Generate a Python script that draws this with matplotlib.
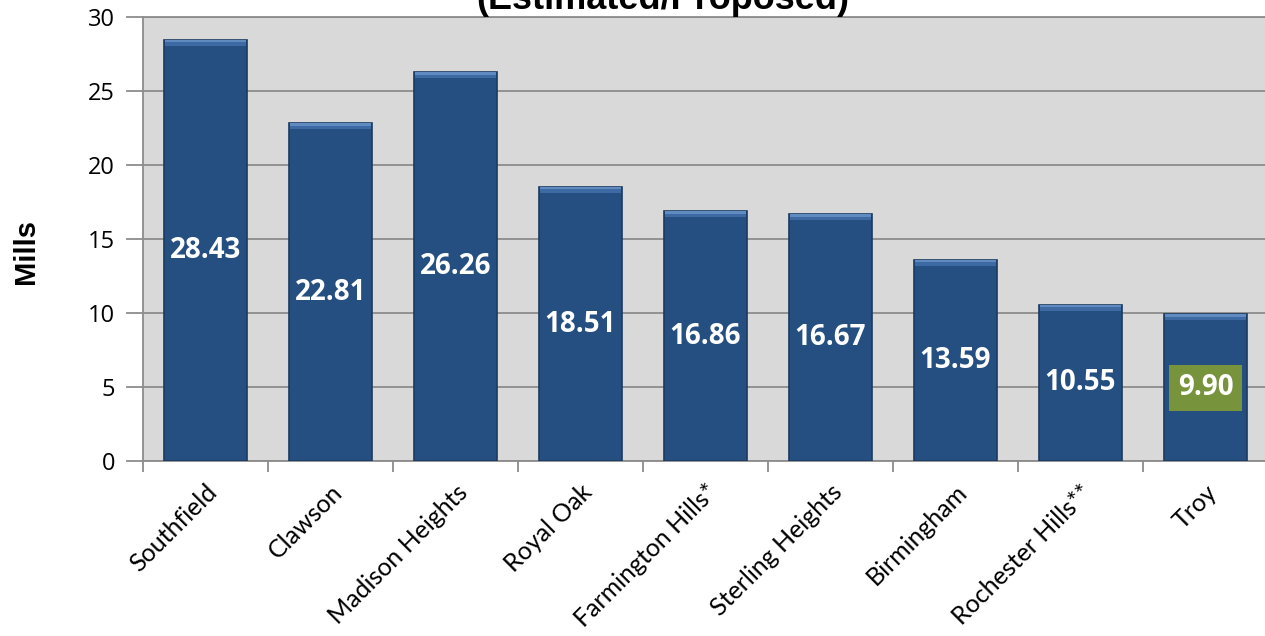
import matplotlib
matplotlib.use("Agg")
import matplotlib.pyplot as plt
import numpy as np

cities = ["Southfield", "Clawson", "Madison Heights", "Royal Oak", "Farmington Hills*",
          "Sterling Heights", "Birmingham", "Rochester Hills**", "Troy"]
mills = [28.43, 22.81, 26.26, 18.51, 16.86, 16.67, 13.59, 10.55, 9.90]
value_labels = ["28.43", "22.81", "26.26", "18.51", "16.86", "16.67", "13.59", "10.55", "9.90"]
yticks = [0, 5, 10, 15, 20, 25, 30]

W, H = 1265, 636
fig = plt.figure(figsize=(W / 100, H / 100), dpi=100)
ax = fig.add_axes([143 / W, 1 - 461 / H, 1125 / W, 444 / H])
ax.set_facecolor("#d9d9d9")

x = np.arange(len(cities))
bw = 0.67
ax.bar(x, mills, width=bw, color="#254f81", edgecolor="#1b3a60", linewidth=1.2, zorder=3)
# bevel highlight on top
ax.bar(x, [0.4] * len(mills), bottom=[m - 0.4 for m in mills], width=bw * 0.97,
       color="#3d6aa2", linewidth=0, zorder=4)
ax.bar(x, [0.15] * len(mills), bottom=[m - 0.15 for m in mills], width=bw * 0.97,
       color="#5f8bc0", linewidth=0, zorder=4)

for i, (m, lab) in enumerate(zip(mills, value_labels)):
    if i == len(mills) - 1:
        ax.text(i, m / 2, lab, ha="center", va="center", color="white", fontsize=20,
                fontweight="bold", family="Open Sans", zorder=6,
                bbox=dict(boxstyle="square,pad=0.3", fc="#77933c", ec="none"))
    else:
        ax.text(i, m / 2, lab, ha="center", va="center", color="white", fontsize=20,
                fontweight="bold", family="Open Sans", zorder=6)

ax.set_xlim(-0.5, len(cities) - 0.5)
ax.set_ylim(0, 30)
ax.set_yticks(yticks)
ax.set_yticklabels([str(t) for t in yticks], fontsize=17, family="Open Sans")
ax.yaxis.grid(True, color="#8c8c8c", linewidth=1.3, zorder=0)
ax.set_axisbelow(True)

ax.set_xticks(np.arange(-0.5, len(cities), 1.0))
ax.set_xticklabels([])
ax.set_xticks(x, minor=True)
ax.set_xticklabels(cities, minor=True, rotation=45, ha="right", rotation_mode="anchor",
                   fontsize=18, family="Lato")
ax.tick_params(axis="x", which="major", length=8, color="#8c8c8c", width=1.3, direction="out")
ax.tick_params(axis="x", which="minor", length=0, pad=14)
ax.tick_params(axis="y", length=12, color="#8c8c8c", width=1.3, pad=8)

for s in ["left", "bottom", "top"]:
    ax.spines[s].set_color("#8c8c8c")
    ax.spines[s].set_linewidth(1.3)
ax.spines["right"].set_visible(False)

fig.text(26 / W, 1 - 251 / H, "Mills", rotation=90, ha="center", va="center",
         fontsize=21, fontweight="bold", family="Liberation Sans")
fig.text(663 / W, 1 - 9 / H, "(Estimated/Proposed)", ha="center", va="baseline",
         fontsize=26, fontweight="bold", family="Liberation Sans")

fig.savefig("out.png", dpi=100)
